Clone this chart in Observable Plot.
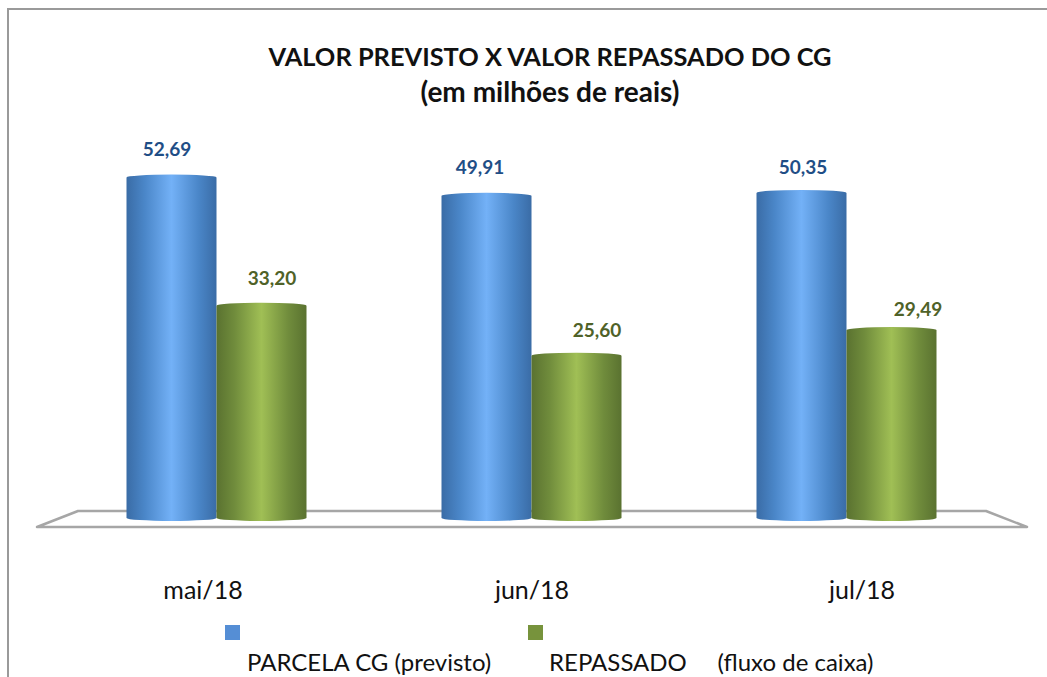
<!DOCTYPE html>
<html lang="pt">
<head>
<meta charset="utf-8">
<script src="https://cdn.jsdelivr.net/npm/d3@7"></script>
<script src="https://cdn.jsdelivr.net/npm/@observablehq/plot@0.6"></script>
<style>
html,body{margin:0;padding:0;background:#fff;width:1047px;height:677px;overflow:hidden;font-family:Lato,sans-serif;color:#111}
#frame{position:absolute;left:7px;top:8px;width:1040px;height:669px;border-left:2px solid #9a9a9a;border-top:2px solid #9a9a9a;box-sizing:border-box}
#title{position:absolute;left:50px;top:39px;width:1000px;height:71px;text-align:center;font-weight:700;font-size:25.4px;line-height:35px;color:#111;white-space:nowrap}
#title span{font-size:28px}
#chart{position:absolute;left:0;top:110px}
#legend{position:absolute;left:0;top:610px;width:1047px;height:67px;font-size:24px}
#legend .sw{position:absolute;top:15px;width:15px;height:15px}
#legend .lb{position:absolute;top:37px;line-height:30px;white-space:pre}
</style>
</head>
<body>
<div id="frame"></div>
<div id="title">VALOR PREVISTO X VALOR REPASSADO DO CG<br><span>(em milhões de reais)</span></div>
<div id="chart"></div>
<div id="legend"></div>
<script>
const months = ["mai/18", "jun/18", "jul/18"];
const seriesNames = ["PARCELA CG (previsto)", "REPASSADO     (fluxo de caixa)"];
const previsto = [52.69, 49.91, 50.35];
const repassado = [33.20, 25.60, 29.49];
const barFills = ["url(#gradBlue)", "url(#gradGreen)"];
const labelColors = ["#1f4e86", "#4f6228"];
const swatchColors = ["#558ed5", "#77933c"];

const rows = months.flatMap((m, i) => [
  {month: m, series: seriesNames[0], value: previsto[i]},
  {month: m, series: seriesNames[1], value: repassado[i]}
]);
const fmt = v => v.toFixed(2).replace(".", ",");

// Manual label placement, as in the source chart
const labelDx = [-5, 10, -7, 20, 1, 26];
const labelDy = [-25, -24, -25, -22, -22, -18];
const monthDx = [-14, 0, 15];

// Trapezoidal floor, anchored to the zero line of the y scale and the plot frame
function floorMark(index, scales, values, dim) {
  const y0 = scales.y(0);
  const w = dim.width;
  const g = d3.create("svg:g");
  g.append("path")
    .attr("d", `M37,${y0 + 6}L78,${y0 - 10}L${w - 61},${y0 - 10}L${w - 20},${y0 + 6}Z`)
    .attr("fill", "#fff")
    .attr("stroke", "#a6a6a6")
    .attr("stroke-width", 2.5)
    .attr("stroke-linejoin", "round");
  return g.node();
}

const plot = Plot.plot({
  width: 1047,
  height: 500,
  marginTop: 0,
  marginLeft: 57.5,
  marginRight: 42.5,
  marginBottom: 89,
  style: {background: "transparent", fontFamily: "Lato, sans-serif", overflow: "visible"},
  fx: {domain: months, padding: 0, label: null, axis: null},
  x: {domain: seriesNames, paddingInner: 0, paddingOuter: 0.75, axis: null, label: null},
  y: {domain: [0, 62.5], axis: null, label: null},
  marks: [
    Plot.dot([0], {r: 0, frameAnchor: "middle", facet: "super", render: floorMark}),
    Plot.barY(rows, {
      fx: "month", x: "series", y: "value",
      fill: d => barFills[seriesNames.indexOf(d.series)],
      rx: 45, ry: 3
    }),
    rows.map((r, i) => Plot.text([r], {
      fx: "month", x: "series", y: "value",
      text: d => fmt(d.value),
      dx: labelDx[i], dy: labelDy[i],
      fontSize: 19, fontWeight: 700,
      fill: labelColors[i % 2]
    })),
    months.map((m, i) => Plot.text([m], {
      fx: d => d, text: d => d,
      frameAnchor: "bottom", dy: 77, dx: monthDx[i],
      fontSize: 25, fill: "#111"
    }))
  ]
});

const ns = "http://www.w3.org/2000/svg";
const defs = document.createElementNS(ns, "defs");
const mkGrad = (id, stops) => {
  const g = document.createElementNS(ns, "linearGradient");
  g.setAttribute("id", id);
  stops.forEach(([o, c]) => {
    const s = document.createElementNS(ns, "stop");
    s.setAttribute("offset", o); s.setAttribute("stop-color", c);
    g.appendChild(s);
  });
  defs.appendChild(g);
};
mkGrad("gradBlue", [[0, "#3a6ca6"], [0.2, "#4a86c8"], [0.5, "#73b1f7"], [0.8, "#4a86c8"], [1, "#3a6ca6"]]);
mkGrad("gradGreen", [[0, "#5a7230"], [0.2, "#708c3c"], [0.5, "#a0bf55"], [0.8, "#708c3c"], [1, "#5a7230"]]);
plot.insertBefore(defs, plot.firstChild);
document.getElementById("chart").appendChild(plot);

const legend = document.getElementById("legend");
const swLeft = [225, 528], lbLeft = [247, 549];
seriesNames.forEach((n, i) => {
  const s = document.createElement("div");
  s.className = "sw"; s.style.left = swLeft[i] + "px"; s.style.background = swatchColors[i];
  legend.appendChild(s);
  const t = document.createElement("div");
  t.className = "lb"; t.style.left = lbLeft[i] + "px"; t.textContent = n;
  legend.appendChild(t);
});
</script>
</body>
</html>
